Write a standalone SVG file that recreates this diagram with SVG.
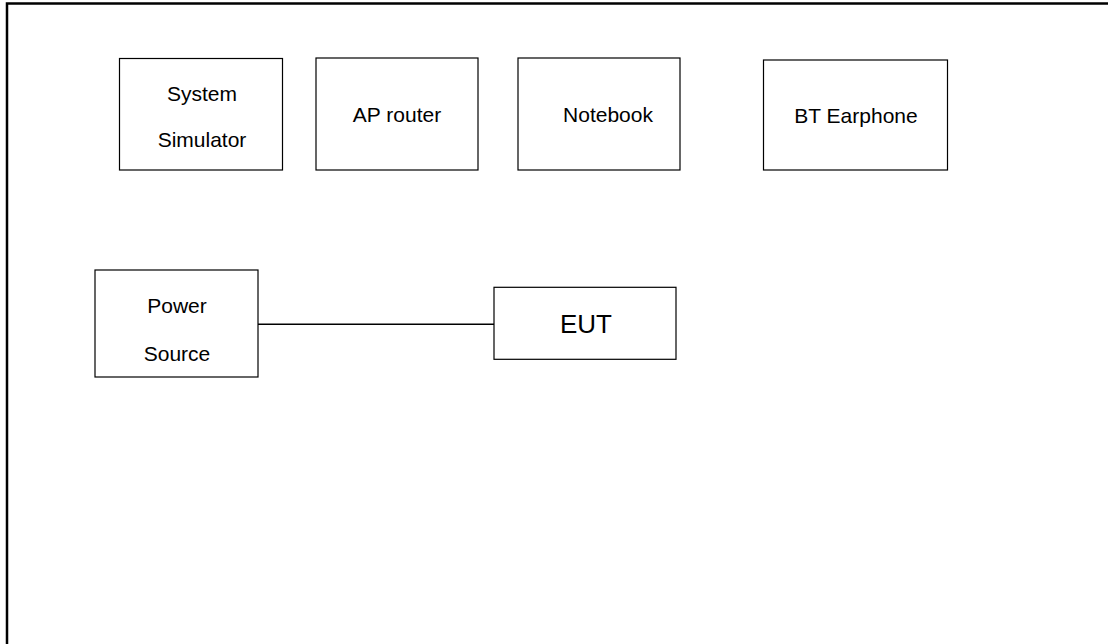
<svg xmlns="http://www.w3.org/2000/svg" width="1108" height="644" viewBox="0 0 1108 644">
<style>
.box{fill:#fff;stroke:#000;stroke-width:1.2}
.t{font-family:"Liberation Sans",Arial,sans-serif;font-size:21px;fill:#000;text-anchor:middle}
.big{font-size:26px}
.wire{stroke:#000;stroke-width:1.6;fill:none}
</style>
<rect width="1108" height="644" fill="#fff"/>
<rect x="7" y="3.5" width="1200" height="700" fill="none" stroke="#000" stroke-width="2.5"/>
<g id="connectors">
<line class="wire" x1="258" y1="324.3" x2="494" y2="324.3"/>
</g>
<g id="system-simulator">
<rect class="box" x="119.5" y="58.5" width="163" height="111.5"/>
<text class="t" x="202" y="100.7">System</text>
<text class="t" x="202" y="147">Simulator</text>
</g>
<g id="ap-router">
<rect class="box" x="316" y="58" width="162" height="112"/>
<text class="t" x="397" y="121.7">AP router</text>
</g>
<g id="notebook">
<rect class="box" x="518" y="58" width="162" height="112"/>
<text class="t" x="608" y="122.3">Notebook</text>
</g>
<g id="bt-earphone">
<rect class="box" x="763.5" y="60" width="184" height="110"/>
<text class="t" x="856" y="122.7">BT Earphone</text>
</g>
<g id="power-source">
<rect class="box" x="95" y="270" width="163" height="107"/>
<text class="t" x="177" y="313.3">Power</text>
<text class="t" x="177" y="361">Source</text>
</g>
<g id="eut">
<rect class="box" x="494" y="287.3" width="182" height="72"/>
<text class="t big" x="586" y="332.7">EUT</text>
</g>
</svg>
